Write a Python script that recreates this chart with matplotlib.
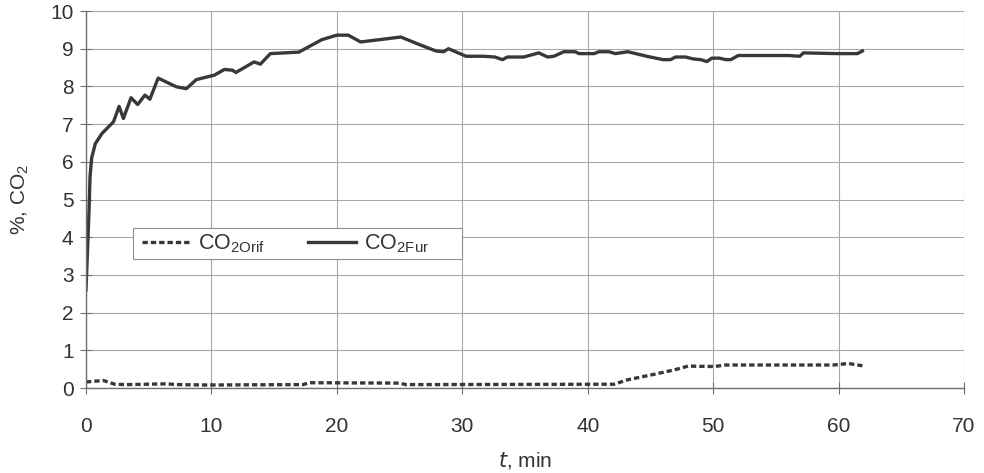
import matplotlib.pyplot as plt
from matplotlib.patches import Rectangle

plt.rcParams['font.family'] = ['Liberation Sans', 'DejaVu Sans']

# CO2 in furnace (solid)
t_fur = [0.0, 0.08, 0.15, 0.25, 0.32, 0.45, 0.74, 1.27, 2.19, 2.64, 2.98, 3.59, 4.12,
         4.70, 5.09, 5.75, 7.2, 8.0, 8.79, 10.24, 11.03, 11.69, 11.95, 13.4, 13.9,
         14.7, 16.97, 18.8, 20.0, 20.9, 21.9, 23.4, 25.1, 26.5, 27.9, 28.5, 28.9,
         30.3, 31.7, 32.6, 33.2, 33.6, 34.9, 36.1, 36.8, 37.3, 38.1, 39.0, 39.3,
         40.5, 40.9, 41.7, 42.2, 43.2, 44.7, 46.0, 46.6, 47.0, 47.8, 48.4, 49.0,
         49.5, 49.9, 50.5, 51.0, 51.4, 52.0, 56.0, 56.9, 57.2, 59.9, 61.5, 61.9]
co2_fur = [2.6, 3.3, 3.9, 4.8, 5.6, 6.1, 6.48, 6.75, 7.06, 7.47, 7.15, 7.70, 7.52,
           7.77, 7.66, 8.22, 7.99, 7.94, 8.18, 8.30, 8.45, 8.43, 8.37, 8.65, 8.59,
           8.87, 8.91, 9.24, 9.36, 9.36, 9.18, 9.24, 9.31, 9.12, 8.94, 8.92, 9.0,
           8.8, 8.8, 8.78, 8.71, 8.78, 8.78, 8.89, 8.78, 8.8, 8.92, 8.92, 8.87,
           8.87, 8.92, 8.92, 8.87, 8.92, 8.8, 8.71, 8.71, 8.78, 8.78, 8.73, 8.71,
           8.66, 8.75, 8.75, 8.71, 8.71, 8.82, 8.82, 8.8, 8.89, 8.87, 8.87, 8.94]

# CO2 at orifice (dashed)
t_orif = [0.0, 1.37, 2.3, 3.2, 6.4, 7.3, 9.6, 17.3, 17.8, 25.0, 25.5, 42.1, 43.2,
          45.1, 46.9, 48.0, 50.1, 51.0, 59.6, 60.8, 61.9]
co2_orif = [0.16, 0.2, 0.10, 0.09, 0.11, 0.09, 0.08, 0.09, 0.14, 0.13, 0.09, 0.10,
            0.22, 0.35, 0.48, 0.58, 0.57, 0.61, 0.61, 0.65, 0.59]

fig = plt.figure(figsize=(9.84, 4.73), dpi=100)
ax = fig.add_axes([0.0874, 0.1797, 0.8923, 0.797])

line_color = '#383838'
ax.plot(t_orif, co2_orif, color=line_color, linewidth=2.4, linestyle=(0, (1.6, 0.9)),
        label=r'CO$_{\mathregular{2Orif}}$')
ax.plot(t_fur, co2_fur, color=line_color, linewidth=2.4, label=r'CO$_{\mathregular{2Fur}}$')

ax.set_xlim(0, 70)
ax.set_ylim(0, 10)
ax.set_xticks(range(0, 71, 10))
ax.set_yticks(range(0, 11))
ax.grid(True, color='#a8a8a8', linewidth=0.8)
ax.set_axisbelow(True)
for side in ['top', 'right']:
    ax.spines[side].set_visible(False)
for side in ['left', 'bottom']:
    ax.spines[side].set_color('#707070')
    ax.spines[side].set_linewidth(1.0)
ax.tick_params(axis='both', direction='inout', length=8, width=0.8, color='#707070',
               labelsize=15, labelcolor='#333333')
ax.tick_params(axis='x', pad=17)
ax.tick_params(axis='y', pad=5)

ax.set_xlabel(r'$\mathit{t}$, min', fontsize=15, color='#333333', labelpad=10)
ax.set_ylabel(r'%, CO$_{\mathregular{2}}$', fontsize=15, color='#333333', labelpad=14)

# legend box is wider than its entries, so the frame is drawn separately
ax.add_patch(Rectangle((0.054, 0.342), 0.374, 0.082, transform=ax.transAxes,
                       facecolor='white', edgecolor='#909090', linewidth=0.8, zorder=4))
leg = ax.legend(loc='center left', bbox_to_anchor=(0.064, 0.383), ncol=2, fontsize=15.5,
                frameon=False, handlelength=2.2, handletextpad=0.4, borderaxespad=0,
                borderpad=0, columnspacing=2.0, labelcolor='#333333')
leg.set_zorder(5)

fig.savefig('out.png', dpi=100)
